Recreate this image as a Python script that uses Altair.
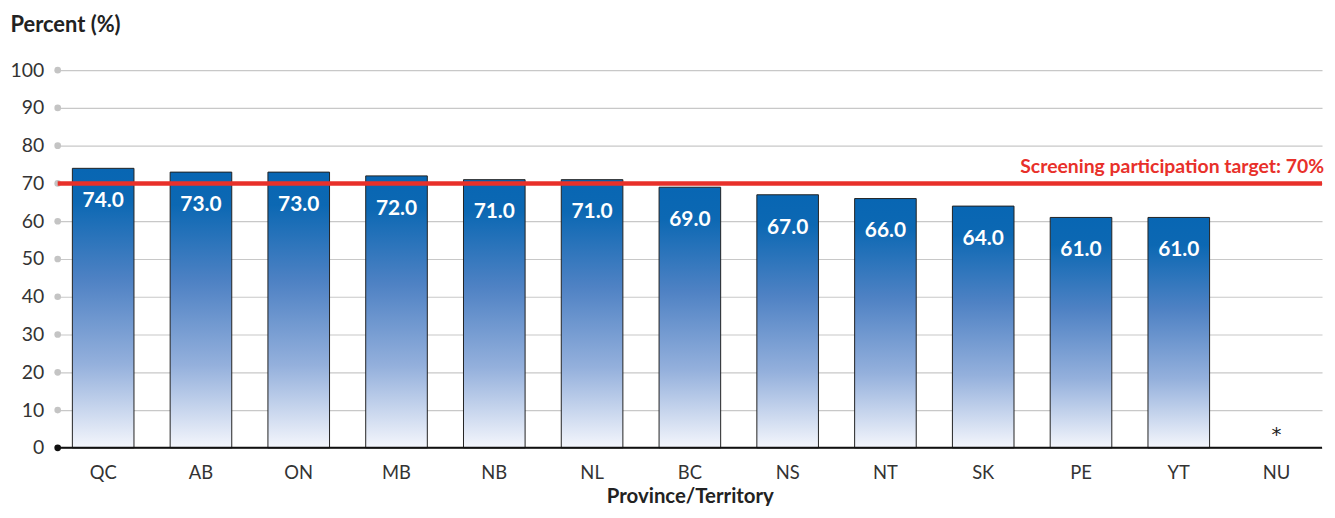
import altair as alt
import pandas as pd

provinces = ["QC", "AB", "ON", "MB", "NB", "NL", "BC", "NS", "NT", "SK", "PE", "YT", "NU"]
values = [74.0, 73.0, 73.0, 72.0, 71.0, 71.0, 69.0, 67.0, 66.0, 64.0, 61.0, 61.0, None]
notes = ["", "", "", "", "", "", "", "", "", "", "", "", "*"]
y_ticks = [0, 10, 20, 30, 40, 50, 60, 70, 80, 90, 100]
target_value = 70
target_label = "Screening participation target: 70%"

FONT = "Lato"

df = pd.DataFrame({"prov": provinces, "value": values, "note": notes})
df["label"] = df["value"].map(lambda v: "" if pd.isna(v) else f"{v:.1f}")
df["base"] = 0
ticks_df = pd.DataFrame({"t": y_ticks, "c": ["black" if t == 0 else "grey" for t in y_ticks]})
target_df = pd.DataFrame({"v": [target_value], "txt": [target_label]})

xaxis = alt.Axis(
    title="Province/Territory",
    titleFont=FONT, titleFontSize=20.5, titleFontWeight="bold", titleColor="#222",
    titlePadding=4,
    labelFont=FONT, labelFontSize=18.5, labelColor="#333", labelPadding=16,
    labelAngle=0, domain=False, ticks=False,
)
xscale = alt.Scale(paddingInner=0.37, paddingOuter=0.15)
yscale = alt.Scale(domain=[0, 100], nice=False)
yaxis = alt.Axis(
    values=y_ticks, title="Percent (%)",
    titleAngle=0, titleAlign="left", titleBaseline="alphabetic",
    titleX=-48, titleY=-39,
    titleFont=FONT, titleFontSize=22, titleFontWeight="bold", titleColor="#222",
    labelFont=FONT, labelFontSize=19.5, labelColor="#333", labelPadding=14,
    labelOverlap=False, tickCount=11,
    grid=True, gridColor="#c8c8c8", gridWidth=1.2,
    domain=False, ticks=False,
)


def X():
    return alt.X("prov:N", sort=provinces, scale=xscale, axis=xaxis)


def Y(field):
    return alt.Y(field, scale=yscale, axis=yaxis, title="Percent (%)")


gradient = alt.Gradient(
    gradient="linear", x1=0, y1=0, x2=0, y2=1,
    stops=[
        alt.GradientStop(offset=0, color="#0866b3"),
        alt.GradientStop(offset=0.12, color="#0c68b3"),
        alt.GradientStop(offset=0.4, color="#4f82c4"),
        alt.GradientStop(offset=0.7, color="#94b0dc"),
        alt.GradientStop(offset=1, color="#f4f6fc"),
    ],
)

bars = alt.Chart(df).mark_bar(
    color=gradient, stroke="#222", strokeWidth=1
).encode(x=X(), y=Y("value:Q"))

dots = alt.Chart(ticks_df).mark_point(filled=True, size=45, opacity=1).encode(
    x=alt.value(0),
    y=Y("t:Q"),
    color=alt.Color("c:N", scale=alt.Scale(domain=["black", "grey"], range=["#111", "#c4c4c4"]), legend=None),
)

baseline = alt.Chart(ticks_df[ticks_df.t == 0]).mark_rule(color="#111", strokeWidth=2).encode(
    y=Y("t:Q")
)

target_rule = alt.Chart(target_df).mark_rule(color="#e8302a", strokeWidth=4.5).encode(
    y=Y("v:Q")
)

target_text = alt.Chart(target_df).mark_text(
    align="right", baseline="alphabetic", dy=-11, color="#e8302a",
    font=FONT, fontSize=19.5, fontWeight="bold",
).encode(
    x=alt.value(1274),
    y=Y("v:Q"),
    text="txt:N",
)

labels = alt.Chart(df).mark_text(
    color="white", font=FONT, fontSize=21, fontWeight="bold", baseline="middle", dy=33,
).encode(
    x=X(),
    y=Y("value:Q"),
    text="label:N",
)

notes_layer = alt.Chart(df[df.note != ""]).mark_text(
    color="#222", font="DejaVu Sans", fontSize=20, baseline="alphabetic", dy=-7,
).encode(
    x=X(),
    y=Y("base:Q"),
    text="note:N",
)

chart = alt.layer(
    bars, dots, baseline, target_rule, target_text, labels, notes_layer
).properties(
    width=1272, height=380,
    autosize=alt.AutoSizeParams(type="none"),
    padding={"left": 50, "top": 61, "right": 5, "bottom": 57},
).configure_view(stroke=None)

chart.save("out.html", embed_options={"renderer": "svg", "actions": False})
